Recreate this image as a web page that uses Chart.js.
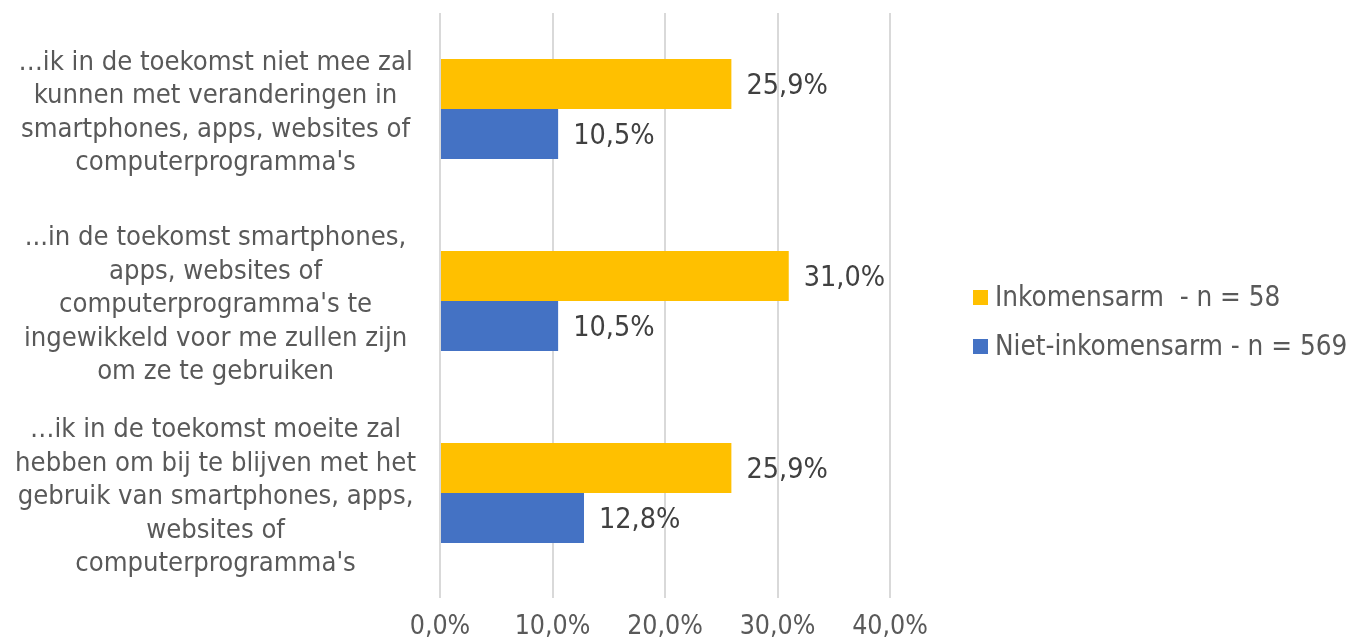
<!DOCTYPE html>
<html>
<head>
<meta charset="utf-8">
<script src="https://cdn.jsdelivr.net/npm/chart.js@4/dist/chart.umd.min.js"></script>
<style>
  body { margin: 0; background: #ffffff; }
</style>
</head>
<body>
<canvas id="myChart" width="1352" height="639"></canvas>
<script>
// Categories (multi-line labels as in the original)
var categories = [
  ['\u2026ik in de toekomst niet mee zal', 'kunnen met veranderingen in', 'smartphones, apps, websites of', "computerprogramma's"],
  ['...in de toekomst smartphones,', 'apps, websites of', "computerprogramma's te", 'ingewikkeld voor me zullen zijn', 'om ze te gebruiken'],
  ['\u2026ik in de toekomst moeite zal', 'hebben om bij te blijven met het', 'gebruik van smartphones, apps,', 'websites of', "computerprogramma's"]
];
var seriesNames = ['Inkomensarm  - n = 58', 'Niet-inkomensarm - n = 569'];
var inkomensarm = [25.9, 31.0, 25.9];
var nietInkomensarm = [10.5, 10.5, 12.8];
var xTicks = [0, 10, 20, 30, 40];

var FONT = "'DejaVu Sans Condensed', 'Liberation Sans', sans-serif";

function pct(v) {
  return v.toFixed(1).replace('.', ',') + '%';
}

// value labels right of each bar
var valueLabels = {
  id: 'valueLabels',
  afterDatasetsDraw: function(chart) {
    var ctx = chart.ctx;
    ctx.save();
    ctx.font = '28.5px ' + FONT;
    ctx.fillStyle = '#404040';
    ctx.textAlign = 'left';
    ctx.textBaseline = 'middle';
    chart.data.datasets.forEach(function(ds, i) {
      chart.getDatasetMeta(i).data.forEach(function(bar, j) {
        ctx.fillText(pct(ds.data[j]), bar.x + 15, bar.y + 3);
      });
    });
    ctx.restore();
  }
};

// legend drawn on the right, like the original
var sideLegend = {
  id: 'sideLegend',
  afterDraw: function(chart) {
    var ctx = chart.ctx;
    ctx.save();
    ctx.font = '27.6px ' + FONT;
    ctx.textAlign = 'left';
    ctx.textBaseline = 'middle';
    chart.data.datasets.forEach(function(ds, i) {
      var y = 297 + i * 49;
      ctx.fillStyle = ds.backgroundColor;
      ctx.fillRect(973, y - 7, 15, 15);
      ctx.fillStyle = '#595959';
      ctx.fillText(ds.label, 995, y + 2);
    });
    ctx.restore();
  }
};

var chart = new Chart(document.getElementById('myChart'), {
  type: 'bar',
  data: {
    labels: categories,
    datasets: [
      {
        label: seriesNames[0],
        data: inkomensarm,
        backgroundColor: '#FFC000',
        barPercentage: 1,
        categoryPercentage: 0.522
      },
      {
        label: seriesNames[1],
        data: nietInkomensarm,
        backgroundColor: '#4472C4',
        barPercentage: 1,
        categoryPercentage: 0.522
      }
    ]
  },
  options: {
    indexAxis: 'y',
    responsive: false,
    animation: false,
    events: [],
    layout: {
      padding: { top: 13, right: 462, left: 0, bottom: 0 }
    },
    scales: {
      x: {
        min: 0,
        max: 40,
        afterFit: function(scale) {
          scale.height = 50;
          scale.paddingLeft = 0;
          scale.paddingRight = 0;
        },
        afterBuildTicks: function(scale) {
          scale.ticks = xTicks.map(function(v) { return { value: v }; });
        },
        grid: {
          color: '#D9D9D9',
          lineWidth: 2,
          drawTicks: true,
          tickLength: 9,
          tickColor: '#D9D9D9'
        },
        border: { display: false },
        ticks: {
          padding: 13,
          color: '#595959',
          font: { family: FONT, size: 26.5 },
          maxRotation: 0,
          callback: function(value) { return pct(value); }
        }
      },
      y: {
        afterFit: function(scale) {
          scale.width = 440;
          scale.paddingTop = 0;
          scale.paddingBottom = 0;
        },
        grid: { display: false, drawTicks: false },
        border: { display: false },
        ticks: {
          crossAlign: 'center',
          padding: 24,
          labelOffset: 4,
          color: '#595959',
          font: { family: FONT, size: 27.2, lineHeight: 1.23 }
        }
      }
    },
    plugins: {
      legend: { display: false },
      tooltip: { enabled: false }
    }
  },
  plugins: [valueLabels, sideLegend]
});
</script>
</body>
</html>
